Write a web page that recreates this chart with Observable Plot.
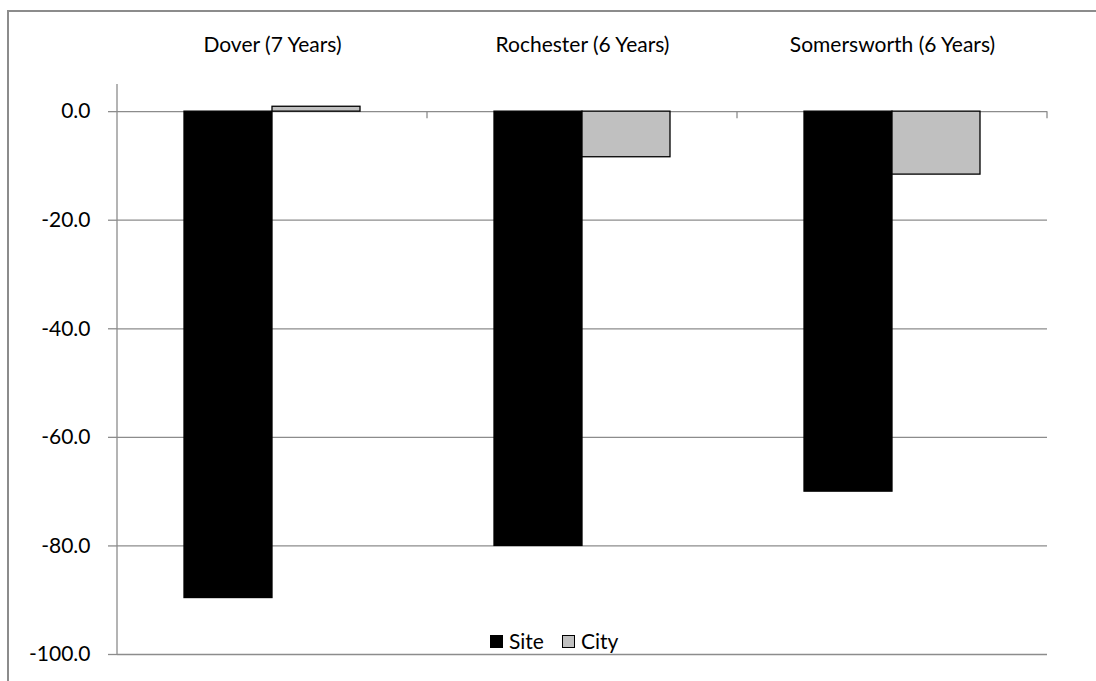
<!DOCTYPE html>
<html><head><meta charset="utf-8">
<script src="https://cdn.jsdelivr.net/npm/d3@7"></script>
<script src="https://cdn.jsdelivr.net/npm/@observablehq/plot@0.6"></script>
<style>
html,body{margin:0;padding:0;background:#fff;}
#wrap{position:relative;width:1096px;height:681px;overflow:hidden;font-family:Lato,"Open Sans",sans-serif;}
#border{position:absolute;left:7px;top:10px;width:2000px;height:2000px;border-top:2px solid #8c8c8c;border-left:2px solid #8c8c8c;}
#chart{position:absolute;left:0;top:0;}
#legend{position:absolute;top:628px;left:490px;font-size:21px;line-height:26px;color:#000;display:flex;align-items:center;white-space:nowrap;}
#legend .sw{display:inline-block;width:13px;height:13px;margin-right:6px;box-sizing:border-box;}
</style></head>
<body><div id="wrap"><div id="border"></div><div id="chart"></div><div id="legend"></div></div>
<script>
const categories = ["Dover (7 Years)", "Rochester (6 Years)", "Somersworth (6 Years)"];
const series = ["Site", "City"];
const siteValues = [-89.6, -80.0, -70.0];
const cityValues = [0.9, -8.4, -11.6];
const yTicks = [0, -20, -40, -60, -80, -100];
const colors = {Site: "#000000", City: "#c0c0c0"};

const data = [];
categories.forEach((c, i) => {
  data.push({category: c, series: "Site", value: siteValues[i]});
  data.push({category: c, series: "City", value: cityValues[i]});
});

const grid = "#8c8c8c";
const plot = Plot.plot({
  width: 1096, height: 681,
  marginLeft: 117, marginRight: 49, marginTop: 84, marginBottom: 27,
  style: {fontFamily: "Lato, 'Open Sans', sans-serif", fontSize: "21px", color: "#000", background: "transparent"},
  fx: {domain: categories, padding: 0, label: null},
  x: {domain: series, paddingInner: 0, paddingOuter: 0.75, axis: null},
  y: {domain: [-100, 5], ticks: yTicks, label: null},
  marks: [
    Plot.gridY(yTicks, {stroke: grid, strokeOpacity: 1, strokeWidth: 1.3}),
    Plot.barY(data, {fx: "category", x: "series", y: "value", fill: d => colors[d.series], stroke: "#000", strokeWidth: 1.3, inset: 0}),
    Plot.axisFx({anchor: "top", tickSize: 0, tickPadding: 33, fontSize: 21, label: null}),
    Plot.axisY(yTicks, {anchor: "left", tickFormat: d => d.toFixed(1), tickSize: 9, tickPadding: 18, stroke: grid, strokeWidth: 1.3, fontSize: 21, label: null})
  ]
});
document.getElementById("chart").appendChild(plot);

// axis line and category boundary ticks drawn from the plot's own scales
const fx = plot.scale("fx"), y = plot.scale("y");
const svg = d3.select(plot);
const g = svg.append("g").attr("stroke", grid).attr("stroke-width", 1.3);
const left = fx.apply(categories[0]);
g.append("line").attr("x1", left).attr("x2", left).attr("y1", y.apply(5)).attr("y2", y.apply(-100));
categories.forEach(c => {
  const xr = fx.apply(c) + fx.bandwidth;
  g.append("line").attr("x1", xr).attr("x2", xr).attr("y1", y.apply(0)).attr("y2", y.apply(0) + 7);
});

const leg = document.getElementById("legend");
series.forEach((s, i) => {
  const sw = document.createElement("span");
  sw.className = "sw";
  sw.style.background = colors[s];
  sw.style.border = "1.3px solid #000";
  const t = document.createElement("span");
  t.textContent = s;
  t.style.marginRight = i === 0 ? "18px" : "0";
  leg.appendChild(sw); leg.appendChild(t);
});
</script></body></html>
